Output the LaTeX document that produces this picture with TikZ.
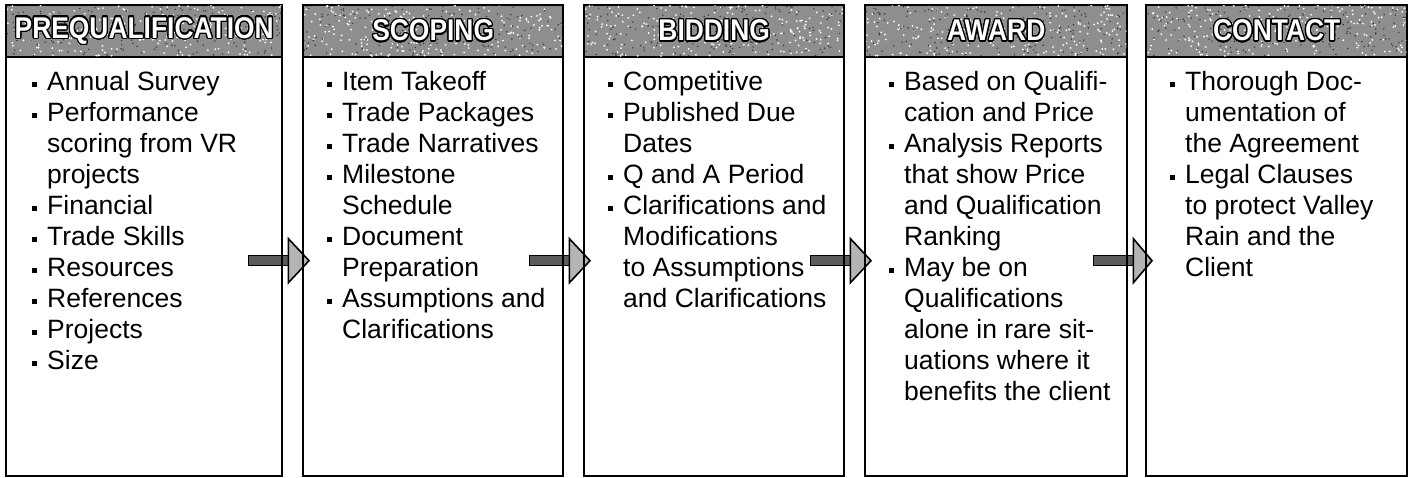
\documentclass[tikz,border=0pt]{standalone}
\usepackage{fontspec}
\setmainfont{Liberation Sans}
\usepackage{graphicx}
\usepackage{xcolor}
\usepackage{contour}
\usetikzlibrary{calc, backgrounds}
\contourlength{1.3pt}
\contournumber{32}
\definecolor{headGray}{HTML}{8E8E8E}
\definecolor{shaftGray}{HTML}{5C5C5C}
\definecolor{tipGray}{HTML}{B4B4B4}

% square bullet hanging left of the text column
\newcommand{\bul}{\llap{\rule[3pt]{5pt}{5pt}\hspace{10pt}}}
% white letters with a black outline, a little narrowed
\newcommand{\headtext}[1]{\scalebox{0.88}[1]{\textcolor{white}{\contour{black}{#1}}}}

\begin{document}
\begin{tikzpicture}[x=1pt, y=-1pt,
    box/.style={draw, line width=2.4pt, anchor=north west, minimum height=471pt, inner sep=0pt},
    head/.style={draw, line width=2.4pt, fill=headGray, anchor=north west, minimum height=52pt,
        inner sep=0pt},
    headlabel/.style={inner sep=0pt, font=\fontsize{30}{30}\selectfont\bfseries},
    items/.style={anchor=north west, align=left, inner sep=0pt, font=\fontsize{26.5}{31}\selectfont},
    shaft/.style={draw, line width=1.2pt, fill=shaftGray},
    tip/.style={draw, line width=1.6pt, fill=tipGray, line join=miter}]
    \useasboundingbox (0,0) rectangle (1410,478);
    \pgfmathsetseed{4127}

    % the five columns
    \node[box, minimum width=276pt] (b1) at (5,4) {};
    \node[box, minimum width=260pt] (b2) at (302,4) {};
    \node[box, minimum width=260pt] (b3) at (583,4) {};
    \node[box, minimum width=262pt] (b4) at (864,4) {};
    \node[box, minimum width=261pt] (b5) at (1145,4) {};

    % title bars, speckled grey
    \node[head, minimum width=276pt] (h1) at (b1.north west) {};
    \node[head, minimum width=260pt] (h2) at (b2.north west) {};
    \node[head, minimum width=260pt] (h3) at (b3.north west) {};
    \node[head, minimum width=262pt] (h4) at (b4.north west) {};
    \node[head, minimum width=261pt] (h5) at (b5.north west) {};
    \foreach \i in {1,...,5} {
        \begin{scope}
            \clip ($(h\i.north west)+(2,2)$) rectangle ($(h\i.south east)+(-2,-2)$);
            \foreach \k in {1,...,220}
                \fill[white] ($(h\i.north west)!rnd!(h\i.north east)+(0,{52*rnd})$) circle (1pt);
            \foreach \k in {1,...,160}
                \fill[black!80] ($(h\i.north west)!rnd!(h\i.north east)+(0,{52*rnd})$) circle (0.8pt);
        \end{scope}
    }
    \node[headlabel] (l1) at (h1) {\headtext{PREQUALIFICATION}};
    \node[headlabel] (l2) at (h2) {\headtext{SCOPING}};
    \node[headlabel] (l3) at (h3) {\headtext{BIDDING}};
    \node[headlabel] (l4) at (h4) {\headtext{AWARD}};
    \node[headlabel] (l5) at (h5) {\headtext{CONTACT}};

    % bullet lists
    \node[items] (t1) at ($(b1.north west)+(42,67)$) {\bul Annual Survey\\
        \bul Performance\\ scoring from VR\\ projects\\ \bul Financial\\
        \bul Trade Skills\\ \bul Resources\\ \bul References\\ \bul Projects\\ \bul Size};
    \node[items] (t2) at ($(b2.north west)+(40,67)$) {\bul Item Takeoff\\
        \bul Trade Packages\\ \bul Trade Narratives\\ \bul Milestone\\ Schedule\\
        \bul Document\\ Preparation\\ \bul Assumptions and\\ Clarifications};
    \node[items] (t3) at ($(b3.north west)+(40,67)$) {\bul Competitive\\
        \bul Published Due\\ Dates\\ \bul Q and A Period\\ \bul Clarifications and\\
        Modifications\\ to Assumptions\\ and Clarifications};
    \node[items] (t4) at ($(b4.north west)+(40,67)$) {\bul Based on Qualifi-\\
        cation and Price\\ \bul Analysis Reports\\ that show Price\\ and Qualification\\
        Ranking\\ \bul May be on\\ Qualifications\\ alone in rare sit-\\
        uations where it\\ benefits the client};
    \node[items] (t5) at ($(b5.north west)+(40,67)$) {\bul Thorough Doc-\\
        umentation of\\ the Agreement\\ \bul Legal Clauses\\ to protect Valley\\
        Rain and the\\ Client};

    % block arrows between the columns, under the box lines
    \begin{scope}[on background layer]
        \foreach \i/\j in {1/2,2/3,3/4,4/5} {
            \draw[shaft] ($(b\i.east)+(-35,15)$) rectangle ($(b\i.east)+(6,25)$);
            \draw[tip] ($(b\i.east)+(5,-2)$) -- ($(b\j.west)+(7,20)$)
                -- ($(b\i.east)+(5,42)$) -- cycle;
        }
    \end{scope}
\end{tikzpicture}
\end{document}
